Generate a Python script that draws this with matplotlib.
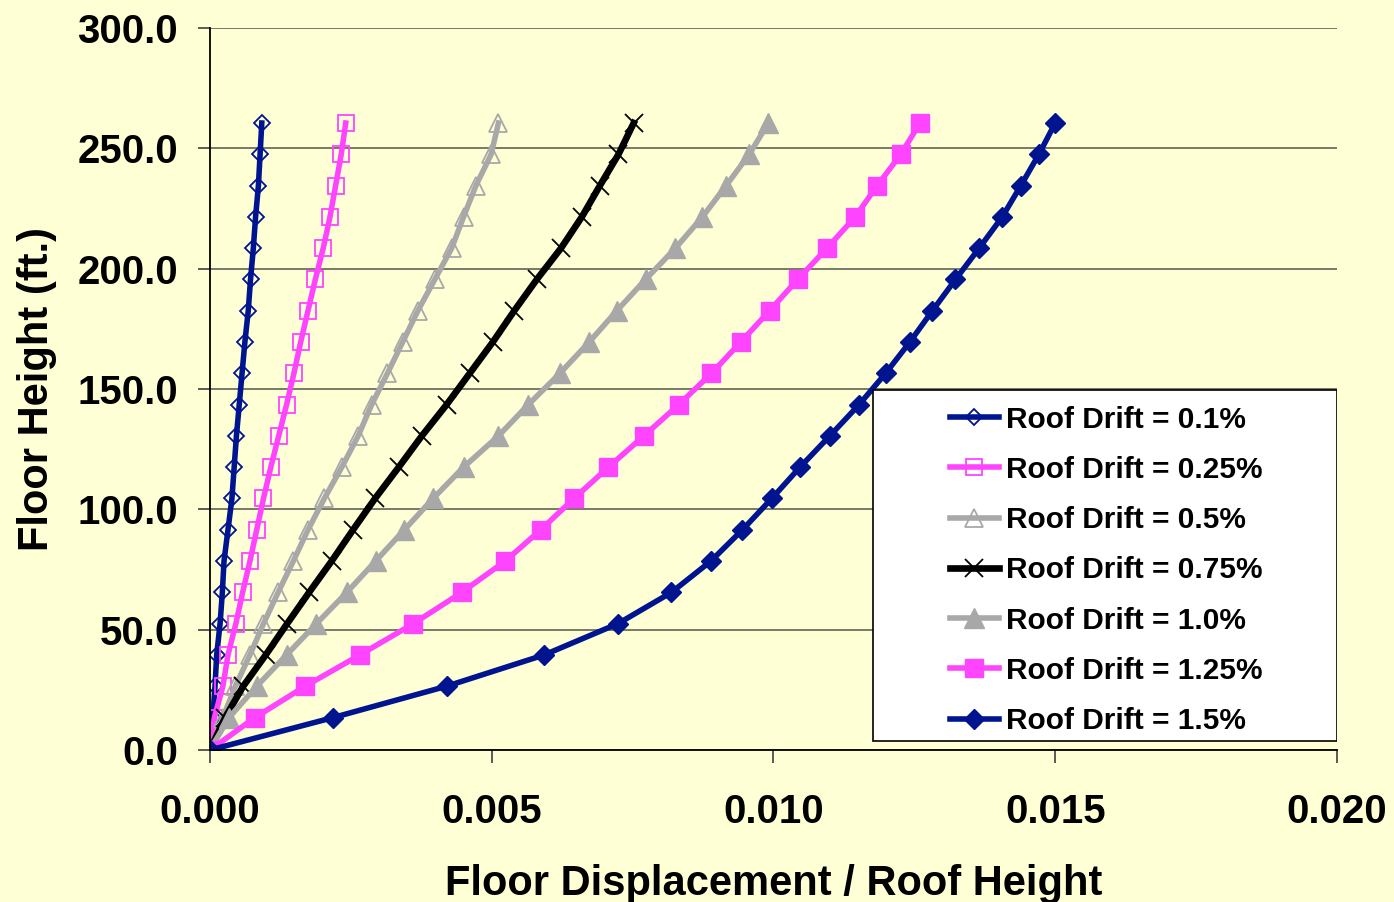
import numpy as np
import matplotlib.pyplot as plt
from matplotlib.patches import Rectangle
from matplotlib.ticker import MultipleLocator, FormatStrFormatter

# floor heights (ft.)
heights = [0, 13.5, 26.5, 39.5, 52.5, 65.5, 78.5, 91.5, 104.5, 117.5, 130.5,
           143.5, 156.5, 169.5, 182.5, 195.5, 208.5, 221.5, 234.5, 247.5, 260.5]

# floor displacement / roof height
drift_010 = [0, 0.00005, 0.00009, 0.00012, 0.00018, 0.00022, 0.00025, 0.00032, 0.00039, 0.00043,
             0.00047, 0.00052, 0.00057, 0.00062, 0.00068, 0.00072, 0.00077, 0.00081, 0.00086,
             0.00089, 0.00092]
drift_025 = [0, 0.00008, 0.00023, 0.00032, 0.00046, 0.00058, 0.00071, 0.00083, 0.00095, 0.00108,
             0.00122, 0.00136, 0.00149, 0.00161, 0.00174, 0.00187, 0.00201, 0.00213, 0.00223,
             0.00233, 0.00241]
drift_050 = [0, 0.00023, 0.00045, 0.00071, 0.00095, 0.00121, 0.00148, 0.00174, 0.00203, 0.00234,
             0.00263, 0.00287, 0.00315, 0.00342, 0.00369, 0.00399, 0.00429, 0.00450, 0.00472,
             0.00499, 0.00512]
drift_075 = [0, 0.00027, 0.00059, 0.00099, 0.00137, 0.00176, 0.00216, 0.00254, 0.00293, 0.00335,
             0.00376, 0.00420, 0.00461, 0.00502, 0.00540, 0.00580, 0.00623, 0.00660, 0.00692,
             0.00725, 0.00752]
drift_100 = [0, 0.00034, 0.00083, 0.00136, 0.00189, 0.00243, 0.00294, 0.00345, 0.00396, 0.00450,
             0.00512, 0.00565, 0.00621, 0.00673, 0.00722, 0.00773, 0.00826, 0.00874, 0.00916,
             0.00957, 0.00991]
drift_125 = [0, 0.00080, 0.00169, 0.00266, 0.00361, 0.00447, 0.00524, 0.00587, 0.00646, 0.00707,
             0.00770, 0.00832, 0.00890, 0.00942, 0.00993, 0.01043, 0.01095, 0.01145, 0.01184,
             0.01226, 0.01260]
drift_150 = [0, 0.00219, 0.00420, 0.00593, 0.00724, 0.00819, 0.00889, 0.00945, 0.00997, 0.01047,
             0.01100, 0.01152, 0.01199, 0.01242, 0.01282, 0.01323, 0.01365, 0.01406, 0.01439,
             0.01471, 0.01500]

labels = ["Roof Drift = 0.1%", "Roof Drift = 0.25%", "Roof Drift = 0.5%", "Roof Drift = 0.75%",
          "Roof Drift = 1.0%", "Roof Drift = 1.25%", "Roof Drift = 1.5%"]

navy = "#001490"
pink = "#FF44FF"
grey = "#A8A8A8"
bg = "#FFFFD6"

plt.rcParams['font.family'] = ['Liberation Sans', 'DejaVu Sans']
plt.rcParams['font.weight'] = 'bold'

fig = plt.figure(figsize=(13.94, 9.02), dpi=100, facecolor=bg)
ax = fig.add_axes([0.1506, 0.1685, 0.8085, 0.8005])
ax.set_facecolor(bg)

ax.plot(drift_010, heights, color=navy, lw=4, marker='D', ms=8.5, mfc='none', mec=navy, mew=1.3, label=labels[0])
ax.plot(drift_025, heights, color=pink, lw=4, marker='s', ms=12, mfc='none', mec=pink, mew=1.3, label=labels[1])
ax.plot(drift_050, heights, color=grey, lw=4, marker='^', ms=13, mfc='none', mec=grey, mew=1.3, label=labels[2])
ax.plot(drift_075, heights, color='black', lw=4.8, marker='x', ms=13, mec='black', mew=1.3, label=labels[3])
ax.plot(drift_100, heights, color=grey, lw=4, marker='^', ms=14, mfc=grey, mec=grey, label=labels[4])
ax.plot(drift_125, heights, color=pink, lw=4, marker='s', ms=13.5, mfc=pink, mec=pink, label=labels[5])
ax.plot(drift_150, heights, color=navy, lw=4, marker='D', ms=10, mfc=navy, mec=navy, label=labels[6])

ax.set_xlim(0, 0.020)
ax.set_ylim(0, 300)
ax.xaxis.set_major_locator(MultipleLocator(0.005))
ax.yaxis.set_major_locator(MultipleLocator(50))
ax.xaxis.set_major_formatter(FormatStrFormatter('%.3f'))
ax.yaxis.set_major_formatter(FormatStrFormatter('%.1f'))
ax.tick_params(axis='both', labelsize=29, direction='out', length=9, width=1.2, color='#404040')
ax.tick_params(axis='x', pad=22)
ax.tick_params(axis='y', pad=14)

ax.grid(axis='y', color='#6E6E60', lw=1.3)
ax.set_axisbelow(True)
for s in ['top', 'right']:
    ax.spines[s].set_visible(False)
for s in ['left', 'bottom']:
    ax.spines[s].set_color('black')
    ax.spines[s].set_linewidth(1.3)

ax.set_xlabel("Floor Displacement / Roof Height", fontsize=30, fontweight='bold', labelpad=24)
ax.set_ylabel("Floor Height (ft.)", fontsize=30, fontweight='bold', labelpad=15)

# legend box drawn separately so its padding can be wider than tall
box = Rectangle((0.5883, 0.0125), 0.4117, 0.4861, transform=ax.transAxes,
                facecolor='white', edgecolor='black', lw=1.2, zorder=5)
ax.add_patch(box)
leg = ax.legend(loc='upper left', bbox_to_anchor=(0.6566, 0.4770), fontsize=21.5,
                frameon=False, borderpad=0, labelspacing=0.745, handlelength=1.64,
                handletextpad=0.25, borderaxespad=0)
leg.set_zorder(6)

fig.savefig("out.png", dpi=100, facecolor=bg)
